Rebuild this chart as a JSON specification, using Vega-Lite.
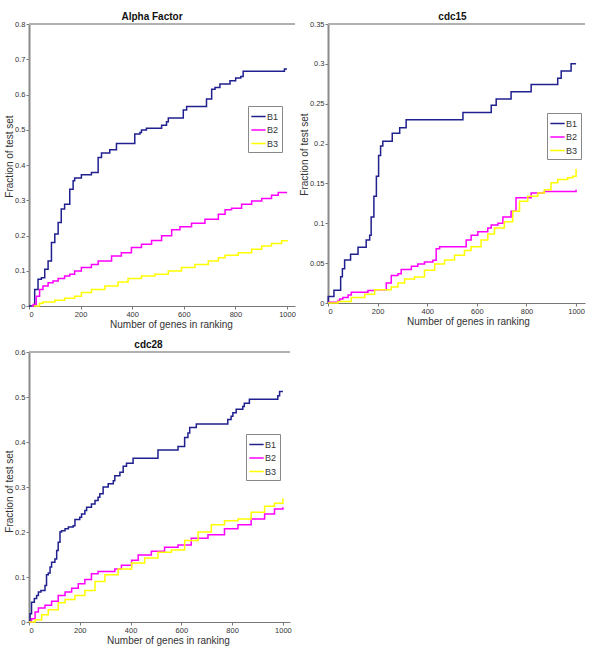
{
  "$schema": "https://vega.github.io/schema/vega-lite/v6.json",
  "padding": {"left": 4, "top": 12, "right": 5, "bottom": 5},
  "background": "white",
  "datasets": {
    "alpha": [
      {"s":"B1","g":0,"f":0},{"s":"B1","g":22,"f":0.047},{"s":"B1","g":35,"f":0.076},{"s":"B1","g":48,"f":0.08},{"s":"B1","g":61,"f":0.104},{"s":"B1","g":74,"f":0.128},{"s":"B1","g":87,"f":0.18},{"s":"B1","g":100,"f":0.204},{"s":"B1","g":113,"f":0.237},{"s":"B1","g":125,"f":0.275},{"s":"B1","g":138,"f":0.289},{"s":"B1","g":151,"f":0.289},{"s":"B1","g":158,"f":0.331},{"s":"B1","g":171,"f":0.355},{"s":"B1","g":177,"f":0.363},{"s":"B1","g":197,"f":0.363},{"s":"B1","g":203,"f":0.372},{"s":"B1","g":229,"f":0.372},{"s":"B1","g":242,"f":0.379},{"s":"B1","g":255,"f":0.379},{"s":"B1","g":268,"f":0.421},{"s":"B1","g":281,"f":0.434},{"s":"B1","g":307,"f":0.434},{"s":"B1","g":313,"f":0.443},{"s":"B1","g":332,"f":0.443},{"s":"B1","g":339,"f":0.461},{"s":"B1","g":404,"f":0.461},{"s":"B1","g":410,"f":0.488},{"s":"B1","g":430,"f":0.492},{"s":"B1","g":436,"f":0.499},{"s":"B1","g":455,"f":0.504},{"s":"B1","g":500,"f":0.504},{"s":"B1","g":514,"f":0.513},{"s":"B1","g":533,"f":0.523},{"s":"B1","g":540,"f":0.533},{"s":"B1","g":585,"f":0.533},{"s":"B1","g":598,"f":0.556},{"s":"B1","g":611,"f":0.566},{"s":"B1","g":669,"f":0.566},{"s":"B1","g":688,"f":0.587},{"s":"B1","g":708,"f":0.615},{"s":"B1","g":721,"f":0.62},{"s":"B1","g":740,"f":0.63},{"s":"B1","g":779,"f":0.639},{"s":"B1","g":801,"f":0.647},{"s":"B1","g":821,"f":0.651},{"s":"B1","g":830,"f":0.666},{"s":"B1","g":986,"f":0.666},{"s":"B1","g":990,"f":0.672},{"s":"B1","g":1000,"f":0.672},
      {"s":"B2","g":10,"f":0},{"s":"B2","g":16,"f":0.004},{"s":"B2","g":28,"f":0.028},{"s":"B2","g":41,"f":0.047},{"s":"B2","g":54,"f":0.057},{"s":"B2","g":74,"f":0.066},{"s":"B2","g":93,"f":0.071},{"s":"B2","g":113,"f":0.078},{"s":"B2","g":138,"f":0.085},{"s":"B2","g":158,"f":0.09},{"s":"B2","g":177,"f":0.099},{"s":"B2","g":203,"f":0.109},{"s":"B2","g":242,"f":0.118},{"s":"B2","g":268,"f":0.128},{"s":"B2","g":320,"f":0.142},{"s":"B2","g":358,"f":0.151},{"s":"B2","g":397,"f":0.166},{"s":"B2","g":436,"f":0.175},{"s":"B2","g":475,"f":0.186},{"s":"B2","g":514,"f":0.199},{"s":"B2","g":553,"f":0.216},{"s":"B2","g":585,"f":0.225},{"s":"B2","g":630,"f":0.235},{"s":"B2","g":682,"f":0.246},{"s":"B2","g":734,"f":0.26},{"s":"B2","g":760,"f":0.273},{"s":"B2","g":785,"f":0.277},{"s":"B2","g":824,"f":0.289},{"s":"B2","g":863,"f":0.298},{"s":"B2","g":902,"f":0.305},{"s":"B2","g":940,"f":0.314},{"s":"B2","g":966,"f":0.322},{"s":"B2","g":1000,"f":0.322},
      {"s":"B3","g":18,"f":0},{"s":"B3","g":41,"f":0.0076},{"s":"B3","g":54,"f":0.011},{"s":"B3","g":100,"f":0.016},{"s":"B3","g":138,"f":0.022},{"s":"B3","g":177,"f":0.028},{"s":"B3","g":203,"f":0.038},{"s":"B3","g":242,"f":0.047},{"s":"B3","g":294,"f":0.057},{"s":"B3","g":345,"f":0.068},{"s":"B3","g":384,"f":0.078},{"s":"B3","g":436,"f":0.085},{"s":"B3","g":488,"f":0.09},{"s":"B3","g":540,"f":0.099},{"s":"B3","g":591,"f":0.109},{"s":"B3","g":643,"f":0.118},{"s":"B3","g":695,"f":0.128},{"s":"B3","g":734,"f":0.137},{"s":"B3","g":760,"f":0.144},{"s":"B3","g":811,"f":0.151},{"s":"B3","g":863,"f":0.161},{"s":"B3","g":902,"f":0.17},{"s":"B3","g":940,"f":0.177},{"s":"B3","g":979,"f":0.185},{"s":"B3","g":1000,"f":0.187}
    ],
    "cdc15": [
      {"s":"B1","g":0,"f":0},{"s":"B1","g":1,"f":0.008},{"s":"B1","g":20,"f":0.008},{"s":"B1","g":24,"f":0.016},{"s":"B1","g":47,"f":0.016},{"s":"B1","g":51,"f":0.033},{"s":"B1","g":58,"f":0.043},{"s":"B1","g":67,"f":0.054},{"s":"B1","g":87,"f":0.054},{"s":"B1","g":91,"f":0.061},{"s":"B1","g":118,"f":0.061},{"s":"B1","g":121,"f":0.07},{"s":"B1","g":148,"f":0.07},{"s":"B1","g":154,"f":0.079},{"s":"B1","g":168,"f":0.085},{"s":"B1","g":174,"f":0.108},{"s":"B1","g":185,"f":0.134},{"s":"B1","g":195,"f":0.159},{"s":"B1","g":204,"f":0.185},{"s":"B1","g":212,"f":0.197},{"s":"B1","g":221,"f":0.203},{"s":"B1","g":255,"f":0.203},{"s":"B1","g":259,"f":0.213},{"s":"B1","g":282,"f":0.213},{"s":"B1","g":289,"f":0.22},{"s":"B1","g":309,"f":0.22},{"s":"B1","g":315,"f":0.23},{"s":"B1","g":537,"f":0.23},{"s":"B1","g":544,"f":0.239},{"s":"B1","g":651,"f":0.239},{"s":"B1","g":658,"f":0.248},{"s":"B1","g":678,"f":0.256},{"s":"B1","g":732,"f":0.256},{"s":"B1","g":738,"f":0.265},{"s":"B1","g":812,"f":0.265},{"s":"B1","g":819,"f":0.274},{"s":"B1","g":919,"f":0.274},{"s":"B1","g":926,"f":0.282},{"s":"B1","g":940,"f":0.291},{"s":"B1","g":973,"f":0.291},{"s":"B1","g":980,"f":0.3},{"s":"B1","g":1000,"f":0.3},
      {"s":"B2","g":0,"f":0.001},{"s":"B2","g":34,"f":0.001},{"s":"B2","g":40,"f":0.003},{"s":"B2","g":47,"f":0.005},{"s":"B2","g":60,"f":0.007},{"s":"B2","g":81,"f":0.01},{"s":"B2","g":94,"f":0.0135},{"s":"B2","g":148,"f":0.0135},{"s":"B2","g":161,"f":0.0156},{"s":"B2","g":188,"f":0.0165},{"s":"B2","g":228,"f":0.0165},{"s":"B2","g":235,"f":0.025},{"s":"B2","g":255,"f":0.0346},{"s":"B2","g":282,"f":0.0367},{"s":"B2","g":295,"f":0.042},{"s":"B2","g":336,"f":0.046},{"s":"B2","g":362,"f":0.049},{"s":"B2","g":389,"f":0.0515},{"s":"B2","g":423,"f":0.0536},{"s":"B2","g":436,"f":0.068},{"s":"B2","g":450,"f":0.0705},{"s":"B2","g":537,"f":0.0705},{"s":"B2","g":557,"f":0.079},{"s":"B2","g":577,"f":0.085},{"s":"B2","g":604,"f":0.0895},{"s":"B2","g":644,"f":0.094},{"s":"B2","g":658,"f":0.098},{"s":"B2","g":685,"f":0.1},{"s":"B2","g":705,"f":0.108},{"s":"B2","g":738,"f":0.115},{"s":"B2","g":758,"f":0.132},{"s":"B2","g":792,"f":0.132},{"s":"B2","g":819,"f":0.138},{"s":"B2","g":872,"f":0.14},{"s":"B2","g":953,"f":0.14},{"s":"B2","g":1000,"f":0.142},
      {"s":"B3","g":0,"f":0},{"s":"B3","g":40,"f":0.002},{"s":"B3","g":94,"f":0.007},{"s":"B3","g":148,"f":0.011},{"s":"B3","g":188,"f":0.0165},{"s":"B3","g":228,"f":0.0165},{"s":"B3","g":255,"f":0.02},{"s":"B3","g":282,"f":0.025},{"s":"B3","g":309,"f":0.03},{"s":"B3","g":349,"f":0.0325},{"s":"B3","g":389,"f":0.041},{"s":"B3","g":430,"f":0.049},{"s":"B3","g":470,"f":0.054},{"s":"B3","g":510,"f":0.06},{"s":"B3","g":550,"f":0.066},{"s":"B3","g":577,"f":0.0705},{"s":"B3","g":617,"f":0.079},{"s":"B3","g":644,"f":0.0865},{"s":"B3","g":671,"f":0.094},{"s":"B3","g":711,"f":0.102},{"s":"B3","g":745,"f":0.115},{"s":"B3","g":772,"f":0.1275},{"s":"B3","g":805,"f":0.134},{"s":"B3","g":846,"f":0.138},{"s":"B3","g":872,"f":0.142},{"s":"B3","g":899,"f":0.151},{"s":"B3","g":926,"f":0.155},{"s":"B3","g":966,"f":0.157},{"s":"B3","g":987,"f":0.159},{"s":"B3","g":1000,"f":0.168}
    ],
    "cdc28": [
      {"s":"B1","g":0,"f":0},{"s":"B1","g":4,"f":0.0185},{"s":"B1","g":10,"f":0.044},{"s":"B1","g":21,"f":0.052},{"s":"B1","g":30,"f":0.059},{"s":"B1","g":37,"f":0.0665},{"s":"B1","g":47,"f":0.07},{"s":"B1","g":63,"f":0.081},{"s":"B1","g":69,"f":0.105},{"s":"B1","g":76,"f":0.109},{"s":"B1","g":83,"f":0.122},{"s":"B1","g":89,"f":0.133},{"s":"B1","g":102,"f":0.14},{"s":"B1","g":109,"f":0.159},{"s":"B1","g":115,"f":0.177},{"s":"B1","g":122,"f":0.2},{"s":"B1","g":128,"f":0.203},{"s":"B1","g":142,"f":0.207},{"s":"B1","g":155,"f":0.211},{"s":"B1","g":174,"f":0.214},{"s":"B1","g":181,"f":0.228},{"s":"B1","g":200,"f":0.233},{"s":"B1","g":207,"f":0.24},{"s":"B1","g":220,"f":0.248},{"s":"B1","g":227,"f":0.255},{"s":"B1","g":246,"f":0.262},{"s":"B1","g":260,"f":0.27},{"s":"B1","g":272,"f":0.277},{"s":"B1","g":279,"f":0.285},{"s":"B1","g":292,"f":0.3},{"s":"B1","g":312,"f":0.307},{"s":"B1","g":332,"f":0.314},{"s":"B1","g":338,"f":0.325},{"s":"B1","g":358,"f":0.333},{"s":"B1","g":371,"f":0.346},{"s":"B1","g":384,"f":0.353},{"s":"B1","g":410,"f":0.364},{"s":"B1","g":495,"f":0.364},{"s":"B1","g":508,"f":0.382},{"s":"B1","g":580,"f":0.382},{"s":"B1","g":587,"f":0.39},{"s":"B1","g":606,"f":0.39},{"s":"B1","g":613,"f":0.41},{"s":"B1","g":626,"f":0.42},{"s":"B1","g":633,"f":0.432},{"s":"B1","g":659,"f":0.44},{"s":"B1","g":770,"f":0.44},{"s":"B1","g":783,"f":0.45},{"s":"B1","g":796,"f":0.457},{"s":"B1","g":803,"f":0.465},{"s":"B1","g":816,"f":0.473},{"s":"B1","g":842,"f":0.479},{"s":"B1","g":848,"f":0.486},{"s":"B1","g":868,"f":0.495},{"s":"B1","g":967,"f":0.495},{"s":"B1","g":980,"f":0.503},{"s":"B1","g":987,"f":0.512},{"s":"B1","g":1000,"f":0.512},
      {"s":"B2","g":0,"f":0},{"s":"B2","g":10,"f":0.0074},{"s":"B2","g":24,"f":0.022},{"s":"B2","g":37,"f":0.031},{"s":"B2","g":63,"f":0.037},{"s":"B2","g":89,"f":0.046},{"s":"B2","g":115,"f":0.059},{"s":"B2","g":142,"f":0.0665},{"s":"B2","g":168,"f":0.075},{"s":"B2","g":194,"f":0.085},{"s":"B2","g":220,"f":0.0946},{"s":"B2","g":246,"f":0.107},{"s":"B2","g":272,"f":0.112},{"s":"B2","g":312,"f":0.112},{"s":"B2","g":338,"f":0.118},{"s":"B2","g":364,"f":0.126},{"s":"B2","g":404,"f":0.137},{"s":"B2","g":430,"f":0.149},{"s":"B2","g":482,"f":0.157},{"s":"B2","g":534,"f":0.166},{"s":"B2","g":587,"f":0.171},{"s":"B2","g":639,"f":0.186},{"s":"B2","g":705,"f":0.194},{"s":"B2","g":770,"f":0.207},{"s":"B2","g":823,"f":0.216},{"s":"B2","g":875,"f":0.229},{"s":"B2","g":928,"f":0.24},{"s":"B2","g":967,"f":0.251},{"s":"B2","g":1000,"f":0.255},
      {"s":"B3","g":0,"f":0},{"s":"B3","g":24,"f":0.005},{"s":"B3","g":50,"f":0.016},{"s":"B3","g":76,"f":0.027},{"s":"B3","g":115,"f":0.043},{"s":"B3","g":142,"f":0.05},{"s":"B3","g":181,"f":0.059},{"s":"B3","g":220,"f":0.07},{"s":"B3","g":260,"f":0.09},{"s":"B3","g":299,"f":0.105},{"s":"B3","g":351,"f":0.118},{"s":"B3","g":404,"f":0.131},{"s":"B3","g":456,"f":0.142},{"s":"B3","g":508,"f":0.155},{"s":"B3","g":561,"f":0.16},{"s":"B3","g":613,"f":0.181},{"s":"B3","g":666,"f":0.2},{"s":"B3","g":718,"f":0.216},{"s":"B3","g":770,"f":0.225},{"s":"B3","g":823,"f":0.229},{"s":"B3","g":875,"f":0.244},{"s":"B3","g":928,"f":0.257},{"s":"B3","g":967,"f":0.264},{"s":"B3","g":1000,"f":0.275}
    ]
  },
  "config": {
    "font": "Liberation Sans",
    "view": {"stroke": null},
    "axis": {"grid": false, "labelFontSize": 7.5, "labelColor": "#333", "titleFontSize": 10, "titleFontWeight": "normal", "titleColor": "#333", "tickSize": 3, "tickColor": "#777", "domainColor": "#777", "labelPadding": 1, "labelBound": false, "labelOverlap": false},
    "axisY": {"domainWidth": 2, "domainColor": "#8a8a8a", "titlePadding": 0},
    "axisX": {"titlePadding": 2},
    "title": {"fontSize": 10, "fontWeight": "bold", "color": "#111", "offset": -2},
    "line": {"interpolate": "step-after", "strokeWidth": 1.5},
    "legend": {"title": null, "orient": "none", "symbolType": "M-1.1,0H1.1", "symbolSize": 169, "symbolStrokeWidth": 2, "labelFontSize": 9, "labelColor": "#333", "labelOffset": 1, "strokeColor": "#888", "fillColor": "white", "padding": 3, "rowPadding": 0.5, "cornerRadius": 0}
  },
  "columns": 2,
  "bounds": "flush",
  "spacing": {"row": 46, "column": 33},
  "resolve": {"scale": {"color": "independent", "x": "independent", "y": "independent"}, "legend": {"color": "independent"}, "axis": {"x": "independent", "y": "independent"}},
  "concat": [
    {
      "width": 266, "height": 282,
      "title": {"text": "Alpha Factor", "dx": -10},
      "data": {"name": "alpha"},
      "layer": [
        {"mark": {"type": "line"}, "encoding": {
          "x": {"field": "g", "type": "quantitative", "scale": {"domain": [0, 1031], "nice": false}, "axis": {"values": [0, 200, 400, 600, 800, 1000], "format": "d", "labelOverlap": false, "title": "Number of genes in ranking", "titleX": 142, "titleAnchor": "middle"}},
          "y": {"field": "f", "type": "quantitative", "scale": {"domain": [0, 0.8], "nice": false}, "axis": {"values": [0, 0.1, 0.2, 0.3, 0.4, 0.5, 0.6, 0.7, 0.8], "format": "~g", "labelOverlap": false, "title": "Fraction of test set", "titleY": 132, "titleAnchor": "middle"}},
          "color": {"field": "s", "type": "nominal", "scale": {"domain": ["B1", "B2", "B3"], "range": ["#20208f", "#ff00ff", "#ffff00"]}, "legend": {"legendX": 219, "legendY": 82}}
        }},
        {"mark": {"type": "rule", "color": "#b0b0b0", "strokeWidth": 1}, "encoding": {"y": {"datum": 0.8, "type": "quantitative", "axis": {"values": [0, 0.1, 0.2, 0.3, 0.4, 0.5, 0.6, 0.7, 0.8], "format": "~g", "labelOverlap": false, "title": "Fraction of test set", "titleY": 132, "titleAnchor": "middle"}}}}
      ]
    },
    {
      "width": 257, "height": 279,
      "title": {"text": "cdc15", "dx": -4},
      "data": {"name": "cdc15"},
      "layer": [
        {"mark": {"type": "line"}, "encoding": {
          "x": {"field": "g", "type": "quantitative", "scale": {"domain": [0, 1036], "nice": false}, "axis": {"values": [0, 200, 400, 600, 800, 1000], "format": "d", "labelOverlap": false, "title": "Number of genes in ranking", "titleX": 140, "titleAnchor": "middle"}},
          "y": {"field": "f", "type": "quantitative", "scale": {"domain": [0, 0.35], "nice": false}, "axis": {"values": [0, 0.05, 0.1, 0.15, 0.2, 0.25, 0.3, 0.35], "format": "~g", "labelOverlap": false, "title": "Fraction of test set", "titleY": 130, "titleAnchor": "middle"}},
          "color": {"field": "s", "type": "nominal", "scale": {"domain": ["B1", "B2", "B3"], "range": ["#20208f", "#ff00ff", "#ffff00"]}, "legend": {"legendX": 219, "legendY": 89}}
        }},
        {"mark": {"type": "rule", "color": "#b0b0b0", "strokeWidth": 1}, "encoding": {"y": {"datum": 0.35, "type": "quantitative", "axis": {"values": [0, 0.05, 0.1, 0.15, 0.2, 0.25, 0.3, 0.35], "format": "~g", "labelOverlap": false, "title": "Fraction of test set", "titleY": 130, "titleAnchor": "middle"}}}}
      ]
    },
    {
      "width": 261, "height": 270,
      "title": {"text": "cdc28", "dx": -11},
      "data": {"name": "cdc28"},
      "layer": [
        {"mark": {"type": "line"}, "encoding": {
          "x": {"field": "g", "type": "quantitative", "scale": {"domain": [0, 1028], "nice": false}, "axis": {"values": [0, 200, 400, 600, 800, 1000], "format": "d", "labelOverlap": false, "title": "Number of genes in ranking", "titleX": 139, "titleAnchor": "middle"}},
          "y": {"field": "f", "type": "quantitative", "scale": {"domain": [0, 0.6], "nice": false}, "axis": {"values": [0, 0.1, 0.2, 0.3, 0.4, 0.5, 0.6], "format": "~g", "labelOverlap": false, "title": "Fraction of test set", "titleY": 139, "titleAnchor": "middle"}},
          "color": {"field": "s", "type": "nominal", "scale": {"domain": ["B1", "B2", "B3"], "range": ["#20208f", "#ff00ff", "#ffff00"]}, "legend": {"legendX": 217, "legendY": 82}}
        }},
        {"mark": {"type": "rule", "color": "#b0b0b0", "strokeWidth": 1}, "encoding": {"y": {"datum": 0.6, "type": "quantitative", "axis": {"values": [0, 0.1, 0.2, 0.3, 0.4, 0.5, 0.6], "format": "~g", "labelOverlap": false, "title": "Fraction of test set", "titleY": 139, "titleAnchor": "middle"}}}}
      ]
    }
  ]
}
